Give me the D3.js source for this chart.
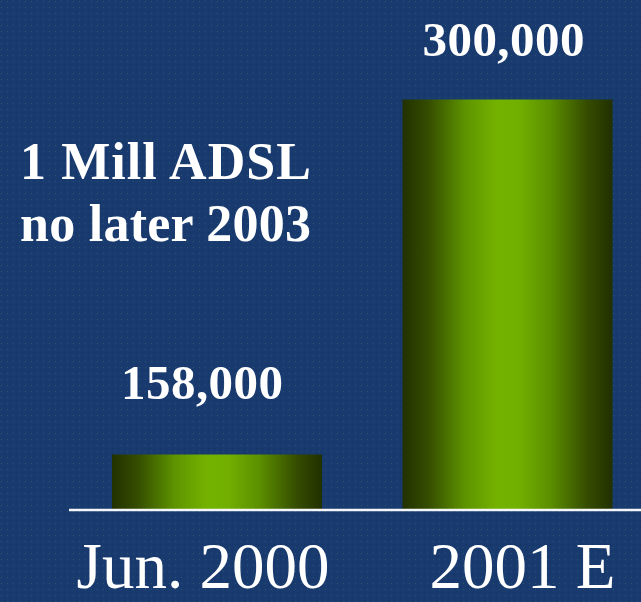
<!DOCTYPE html>
<html>
<head>
<meta charset="utf-8">
<script src="https://cdn.jsdelivr.net/npm/d3@7"></script>
<style>
  html, body { margin: 0; padding: 0; background: #183a6e; }
  svg { display: block; }
</style>
</head>
<body>
<svg id="chart" width="641" height="602"></svg>
<script>
// ADSL subscriber figures
const categories = ["Jun. 2000", "2001 E"];
const subscribers = [158000, 300000];
const valueLabels = ["158,000", "300,000"];
const noteLines = ["1 Mill ADSL", "no later 2003"];

const W = 641, H = 602;
const svg = d3.select("#chart");
const defs = svg.append("defs");

// textured navy backdrop
const pat = defs.append("pattern")
  .attr("id", "grain").attr("width", 6).attr("height", 6)
  .attr("patternUnits", "userSpaceOnUse");
pat.append("rect").attr("width", 6).attr("height", 6).attr("fill", "#183a6f");
pat.append("rect").attr("x", 1).attr("y", 1).attr("width", 1).attr("height", 1)
  .attr("fill", "#2c5a6c").attr("opacity", 0.8);
pat.append("rect").attr("x", 4).attr("y", 4).attr("width", 1).attr("height", 1)
  .attr("fill", "#15305c").attr("opacity", 0.9);
svg.append("rect").attr("width", W).attr("height", H).attr("fill", "url(#grain)");

// cylinder shading for the bars
const grad = defs.append("linearGradient").attr("id", "cyl")
  .attr("x1", "0%").attr("x2", "100%").attr("y1", "0%").attr("y2", "0%");
[
  [0, "#223100"], [0.12, "#344c00"], [0.3, "#5e9400"], [0.45, "#74b200"],
  [0.55, "#72b000"], [0.7, "#5c9000"], [0.88, "#354c00"], [1, "#213000"]
].forEach(([o, c]) => grad.append("stop").attr("offset", o).attr("stop-color", c));

const baseY = 509.5;
const x = d3.scaleBand().domain(categories).range([112, 612.5])
  .paddingInner(0.277).paddingOuter(0);
const y = d3.scaleLinear().domain([136000, 300000]).range([baseY, 99.5]);

const data = categories.map((c, i) => ({ cat: c, v: subscribers[i], label: valueLabels[i] }));

svg.append("g").selectAll("rect").data(data).join("rect")
  .attr("x", d => x(d.cat))
  .attr("y", d => y(d.v))
  .attr("width", x.bandwidth())
  .attr("height", d => baseY - y(d.v))
  .attr("fill", "url(#cyl)");

// baseline
svg.append("line")
  .attr("x1", 69).attr("x2", W).attr("y1", 510).attr("y2", 510)
  .attr("stroke", "#f4f6fa").attr("stroke-width", 2.5);

const serif = "'Liberation Serif', 'Times New Roman', serif";

// value labels above bars
const valueNudge = [{ dx: -15, dy: -56 }, { dx: -4, dy: -44 }];
svg.append("g").selectAll("text").data(data).join("text")
  .attr("x", (d, i) => x(d.cat) + x.bandwidth() / 2 + valueNudge[i].dx)
  .attr("y", (d, i) => y(d.v) + valueNudge[i].dy)
  .attr("text-anchor", "middle")
  .attr("font-family", serif).attr("font-weight", "bold").attr("font-size", 49)
  .attr("textLength", 162).attr("lengthAdjust", "spacing")
  .attr("fill", "#ffffff")
  .text(d => d.label);

// category labels
const catNudge = [-14, 15];
svg.append("g").selectAll("text").data(categories).join("text")
  .attr("x", (d, i) => x(d) + x.bandwidth() / 2 + catNudge[i])
  .attr("y", 588)
  .attr("text-anchor", "middle")
  .attr("font-family", serif).attr("font-size", 65)
  .attr("fill", "#ffffff")
  .text(d => d);

// side note
svg.append("g").selectAll("text").data(noteLines).join("text")
  .attr("x", 20)
  .attr("y", (d, i) => 179 + i * 62)
  .attr("font-family", serif).attr("font-weight", "bold").attr("font-size", 52)
  .attr("textLength", 291).attr("lengthAdjust", "spacing")
  .attr("fill", "#ffffff")
  .text(d => d);
</script>
</body>
</html>
